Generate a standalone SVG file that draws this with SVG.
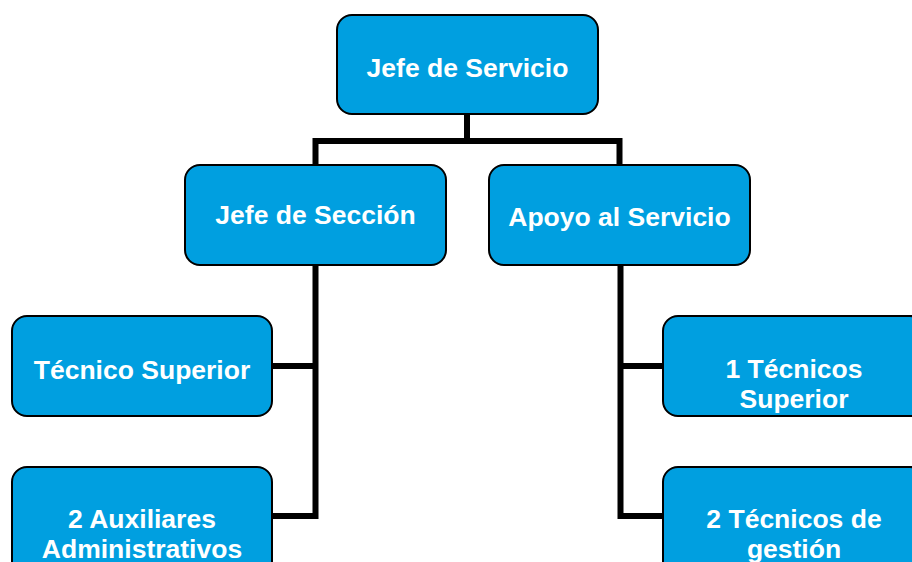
<svg xmlns="http://www.w3.org/2000/svg" width="912" height="562" viewBox="0 0 912 562">
<style>
.box{fill:#009FE0;stroke:#000;stroke-width:2}
.lbl{font-family:"Liberation Sans",Arial,sans-serif;font-weight:bold;fill:#fff;text-anchor:middle;font-size:26.5px}
.con{fill:none;stroke:#000;stroke-width:6;stroke-linejoin:miter;stroke-linecap:butt}
</style>
<rect width="912" height="562" fill="#fff"/>
<g id="connectors">
<polyline class="con" points="467,115 467,141"/>
<polyline class="con" points="315.5,166 315.5,141 619.5,141 619.5,166"/>
<polyline class="con" points="272,366 315.5,366"/>
<polyline class="con" points="315.5,265 315.5,516 272,516"/>
<polyline class="con" points="663,366 620.5,366"/>
<polyline class="con" points="620.5,265 620.5,516 663,516"/>
</g>
<g id="jefe-servicio">
<rect class="box" x="337" y="15" width="261" height="99" rx="15"/>
<text class="lbl" x="467.5" y="77">Jefe de Servicio</text>
</g>
<g id="jefe-seccion">
<rect class="box" x="185" y="165" width="261" height="100" rx="15"/>
<text class="lbl" x="315.5" y="224" font-size="23.6">Jefe de Sección</text>
</g>
<g id="apoyo-servicio">
<rect class="box" x="489" y="165" width="261" height="100" rx="15"/>
<text class="lbl" x="619.5" y="226" font-size="26.3">Apoyo al Servicio</text>
</g>
<g id="tecnico-superior">
<rect class="box" x="12" y="316" width="260" height="100" rx="15"/>
<text class="lbl" x="142" y="379">Técnico Superior</text>
</g>
<g id="auxiliares">
<rect class="box" x="12" y="467" width="260" height="110" rx="15"/>
<text class="lbl" x="142" y="528">2 Auxiliares</text>
<text class="lbl" x="142" y="558">Administrativos</text>
</g>
<g id="tecnicos-superior">
<rect class="box" x="663" y="316" width="262" height="100" rx="15"/>
<text class="lbl" x="794" y="378">1 Técnicos</text>
<text class="lbl" x="794" y="408">Superior</text>
</g>
<g id="tecnicos-gestion">
<rect class="box" x="663" y="467" width="262" height="110" rx="15"/>
<text class="lbl" x="794" y="528">2 Técnicos de</text>
<text class="lbl" x="794" y="558">gestión</text>
</g>
</svg>
